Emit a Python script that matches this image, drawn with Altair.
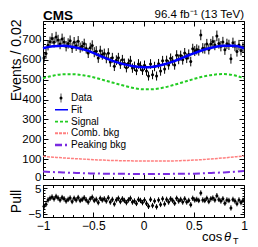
import altair as alt
import pandas as pd
import numpy as np

# ---------------- data ----------------
bin_centers = [round(-0.99 + 0.02 * i, 2) for i in range(100)]
events = [609, 631, 673, 690, 707, 688, 714, 699, 679, 705,
          689, 668, 682, 696, 660, 688, 670, 693, 661, 668,
          680, 657, 634, 660, 672, 638, 643, 609, 645, 625,
          631, 607, 633, 589, 610, 567, 598, 610, 578, 600,
          582, 560, 582, 595, 558, 567, 546, 579, 568, 547,
          572, 543, 518, 579, 525, 566, 518, 580, 543, 595,
          553, 596, 574, 607, 595, 574, 623, 602, 621, 600,
          634, 608, 627, 591, 655, 644, 652, 646, 725, 658,
          656, 679, 652, 679, 692, 674, 720, 682, 668, 689,
          650, 680, 675, 605, 685, 669, 641, 674, 647, 664]
pulls = [-2.0, -1.2, 0.4, 1.0, 1.5, 0.8, 1.7, 1.1, 0.4, 1.3,
         0.8, 0.0, 0.6, 1.1, -0.2, 1.0, 0.4, 1.3, 0.2, 0.6,
         1.2, 0.4, -0.4, 0.8, 1.4, 0.2, 0.6, -0.6, 1.0, 0.4,
         0.8, 0.0, 1.2, -0.4, 0.6, -1.1, 0.4, 1.0, -0.2, 0.8,
         0.2, -0.6, 0.4, 1.0, -0.4, 0.0, -0.9, 0.6, 0.2, -0.6,
         0.4, -0.9, -2.0, 0.6, -1.7, 0.0, -2.2, 0.4, -1.3, 0.8,
         -1.1, 0.6, -0.4, 0.8, 0.2, -0.8, 1.0, 0.0, 0.6, -0.4,
         0.8, -0.4, 0.2, -1.4, 1.0, 0.4, 0.6, 0.2, 3.0, 0.4,
         0.2, 1.0, -0.2, 0.8, 1.1, 0.4, 2.0, 0.6, 0.0, 0.8,
         -0.8, 0.4, 0.2, -2.6, 0.6, 0.0, -1.0, 0.4, -0.6, 0.2]

curve_x = [-1.0, -0.9, -0.8, -0.7, -0.6, -0.5, -0.4, -0.3, -0.2, -0.1, 0.0,
           0.1, 0.2, 0.3, 0.4, 0.5, 0.6, 0.7, 0.8, 0.9, 1.0]
fit_curve = [658, 668, 670, 664, 652, 635, 613, 593, 578, 567, 562,
             565, 576, 592, 612, 632, 650, 663, 670, 670, 658]
signal_curve = [507, 520, 527, 527, 522, 512, 498, 484, 470, 458, 451,
                452, 460, 473, 488, 503, 516, 525, 528, 522, 507]
comb_curve = [114, 110, 106, 103, 100, 97, 95, 93, 92, 91, 90,
              90, 90, 91, 93, 95, 98, 102, 106, 111, 116]
peaking_curve = [38, 35, 33, 31, 29, 28, 27, 26, 26, 25, 25,
                 25, 25, 26, 26, 27, 29, 31, 33, 36, 40]

legend_labels = ["Data", "Fit", "Signal", "Comb. bkg", "Peaking bkg"]
legend_colors = ["black", "#0000ff", "#22cc22", "#ff8080", "#7a2be0"]
legend_dashes = [[1, 0], [1, 0], [3, 2], [3, 1], [7, 3, 2, 3]]
legend_widths = [1, 2.5, 2, 1.5, 2]

x_ticks = [-1, -0.5, 0, 0.5, 1]
x_minor = [round(-1 + 0.1 * i, 1) for i in range(21)]
y_ticks = [0, 100, 200, 300, 400, 500, 600, 700]
y_minor = list(range(0, 781, 20))
p_ticks = [-5, 0, 5]
p_minor = list(range(-6, 7))

# ---------------- layout ----------------
W, H, HP = 201, 158, 32
FONT = "Liberation Sans"
LFS = 11.5

xs = alt.Scale(domain=[-1, 1], nice=False, zero=False)
ys = alt.Scale(domain=[0, 795], nice=False, zero=False)
ps = alt.Scale(domain=[-6, 6], nice=False, zero=False)

XT = "abs(datum.value*2 - round(datum.value*2)) < 0.001"
YT = "datum.value % 100 === 0"
PT = "datum.value % 5 === 0"


def tick_axis(orient, offset, values, test, major=5, minor=2.5):
    return alt.Axis(orient=orient, offset=offset, values=values, labels=False,
                    domain=False, grid=False, ticks=True, tickColor="black",
                    tickWidth=1,
                    tickSize={"condition": {"test": test, "value": major}, "value": minor},
                    title=None)


df = pd.DataFrame({"x": bin_centers, "events": events})
df["err"] = np.sqrt(df["events"])
df["lo"] = df["events"] - df["err"]
df["hi"] = df["events"] + df["err"]

cdf = pd.DataFrame({"x": curve_x, "fit": fit_curve, "signal": signal_curve,
                    "comb": comb_curve, "peak": peaking_curve})

y_label_axis = alt.Axis(orient="left", values=y_ticks, format="d", domain=False,
                        ticks=False, tickSize=0, grid=False, labelFont=FONT,
                        labelFontSize=LFS, labelPadding=2, labelColor="black",
                        labelFlush=False,
                        labelOffset={"condition": {"test": "datum.value === 0", "value": -1.5}, "value": 0},
                        title="Events / 0.02", titleFont=FONT,
                        titleFontSize=14, titleFontWeight="normal", titleColor="black",
                        titleX=-20, titleY=-2, titleAngle=270, titleAlign="right",
                        titleBaseline="bottom")

signal = alt.Chart(cdf).mark_line(color=legend_colors[2], strokeDash=legend_dashes[2],
                                  strokeWidth=2, interpolate="monotone").encode(
    x=alt.X("x:Q", scale=xs, axis=None), y=alt.Y("signal:Q", scale=ys, axis=None))
comb = alt.Chart(cdf).mark_line(color=legend_colors[3], strokeDash=legend_dashes[3],
                                strokeWidth=1.5, interpolate="monotone").encode(
    x=alt.X("x:Q", scale=xs, axis=None), y=alt.Y("comb:Q", scale=ys, axis=None))
peak = alt.Chart(cdf).mark_line(color=legend_colors[4], strokeDash=legend_dashes[4],
                                strokeWidth=2, interpolate="monotone").encode(
    x=alt.X("x:Q", scale=xs, axis=None), y=alt.Y("peak:Q", scale=ys, axis=None))

errbars = alt.Chart(df).mark_rule(color="black", strokeWidth=1).encode(
    x=alt.X("x:Q", scale=xs, axis=tick_axis("top", -H, x_minor, XT)),
    y=alt.Y("lo:Q", scale=ys, axis=y_label_axis), y2="hi:Q")
points = alt.Chart(df).mark_circle(color="black", size=9, opacity=1).encode(
    x=alt.X("x:Q", scale=xs, axis=tick_axis("bottom", -H, x_minor, XT)),
    y=alt.Y("events:Q", scale=ys, axis=tick_axis("right", -W, y_minor, YT)))
fit = alt.Chart(cdf).mark_line(color=legend_colors[1], strokeWidth=2.5,
                               interpolate="monotone").encode(
    x=alt.X("x:Q", scale=xs, axis=None),
    y=alt.Y("fit:Q", scale=ys, axis=tick_axis("left", -W, y_minor, YT)))

cms = alt.Chart(pd.DataFrame({"t": ["CMS"]})).mark_text(
    align="left", baseline="alphabetic", font=FONT, fontSize=13.5,
    fontWeight="bold", color="black").encode(text="t:N", x=alt.value(0), y=alt.value(-1))
lumi = alt.Chart(pd.DataFrame({"t": ["96.4 fb\u207b\u00b9 (13 TeV)"]})).mark_text(
    align="right", baseline="alphabetic", font=FONT, fontSize=11.5,
    color="black").encode(text="t:N", x=alt.value(W), y=alt.value(-3))

main = alt.layer(signal, comb, peak, errbars, points, fit, cms, lumi)

leg_df = pd.DataFrame({"label": legend_labels})
legscale = alt.Scale(type="point", domain=legend_labels, range=[77, 124], padding=0)
leg_lines = alt.Chart(leg_df).transform_filter("datum.label != 'Data'").mark_rule().encode(
    x=alt.value(12), x2=alt.value(25),
    y=alt.Y("label:N", scale=legscale, axis=None),
    color=alt.Color("label:N", scale=alt.Scale(domain=legend_labels, range=legend_colors), legend=None),
    strokeDash=alt.StrokeDash("label:N", scale=alt.Scale(domain=legend_labels, range=legend_dashes), legend=None),
    strokeWidth=alt.StrokeWidth("label:N", scale=alt.Scale(domain=legend_labels, range=legend_widths), legend=None))
leg_pt = alt.Chart(leg_df).transform_filter("datum.label == 'Data'").mark_circle(
    color="black", size=9, opacity=1).encode(
    x=alt.value(18), y=alt.Y("label:N", scale=legscale, axis=None))
leg_bar = alt.Chart(leg_df).transform_filter("datum.label == 'Data'").mark_tick(
    orient="vertical", size=9, thickness=1, color="black").encode(
    x=alt.value(18), y=alt.Y("label:N", scale=legscale, axis=None))
leg_txt = alt.Chart(leg_df).mark_text(align="left", baseline="middle", font=FONT,
                                      fontSize=10, color="black").encode(
    x=alt.value(28), y=alt.Y("label:N", scale=legscale, axis=None), text="label:N")
legend = alt.layer(leg_lines, leg_pt, leg_bar, leg_txt)

top = alt.layer(main, legend).resolve_scale(y="independent").properties(width=W, height=H)

# ---------------- pull panel ----------------
pdf = pd.DataFrame({"x": bin_centers, "pull": pulls})
pdf["plo"] = pdf["pull"] - 1
pdf["phi"] = pdf["pull"] + 1

x_label_axis = alt.Axis(orient="bottom", values=x_ticks, format="~g", domain=False,
                        ticks=False, tickSize=0, grid=False, labelFont=FONT,
                        labelFontSize=12, labelPadding=3, labelColor="black",
                        labelFlush=False, title=None)
p_label_axis = alt.Axis(orient="left", values=p_ticks, format="d", domain=False,
                        ticks=False, tickSize=0, grid=False, labelFont=FONT,
                        labelFontSize=LFS, labelPadding=2, labelColor="black",
                        labelFlush=False,
                        labelOffset={"condition": {"test": "datum.value === 5", "value": 2}, "value": 0},
                        title="Pull", titleFont=FONT,
                        titleFontSize=14, titleFontWeight="normal", titleColor="black",
                        titleX=-20, titleY=HP / 2, titleAngle=270, titleAlign="center",
                        titleBaseline="bottom")

p_err = alt.Chart(pdf).mark_rule(color="black", strokeWidth=1).encode(
    x=alt.X("x:Q", scale=xs, axis=x_label_axis),
    y=alt.Y("plo:Q", scale=ps, axis=p_label_axis), y2="phi:Q")
p_pts = alt.Chart(pdf).mark_circle(color="black", size=9, opacity=1).encode(
    x=alt.X("x:Q", scale=xs, axis=tick_axis("top", -HP, x_minor, XT)),
    y=alt.Y("pull:Q", scale=ps, axis=tick_axis("right", -W, p_minor, PT, 4, 2)))
p_pts2 = alt.Chart(pdf).mark_circle(color="black", size=9, opacity=0).encode(
    x=alt.X("x:Q", scale=xs, axis=tick_axis("bottom", -HP, x_minor, XT)),
    y=alt.Y("pull:Q", scale=ps, axis=tick_axis("left", -W, p_minor, PT, 4, 2)))

t_cos = alt.Chart(pd.DataFrame({"t": ["cos"]})).mark_text(
    align="left", baseline="alphabetic", font=FONT, fontSize=13, color="black").encode(
    text="t:N", x=alt.value(159), y=alt.value(56))
t_theta = alt.Chart(pd.DataFrame({"t": ["\u03b8"]})).mark_text(
    align="left", baseline="alphabetic", font=FONT, fontSize=13, fontStyle="italic",
    color="black").encode(text="t:N", x=alt.value(181), y=alt.value(56))
t_sub = alt.Chart(pd.DataFrame({"t": ["T"]})).mark_text(
    align="left", baseline="alphabetic", font=FONT, fontSize=9, color="black").encode(
    text="t:N", x=alt.value(190), y=alt.value(59))

bottom = alt.layer(p_err, p_pts, p_pts2, t_cos, t_theta, t_sub).properties(width=W, height=HP)

chart = alt.vconcat(top, bottom, spacing=6, bounds="flush").properties(
    padding=0, background="white"
).configure_view(stroke="black", strokeWidth=1)

chart.save("out.html", embed_options={"renderer": "svg", "actions": False})
